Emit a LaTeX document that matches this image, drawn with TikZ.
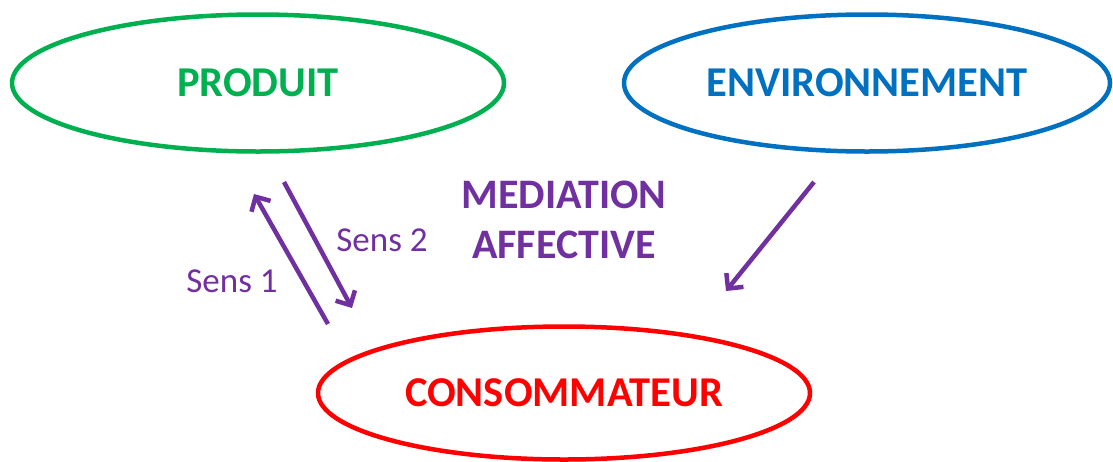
\documentclass[tikz,border=0pt]{standalone}
\usepackage{fontspec}
\setmainfont{Carlito}
\usetikzlibrary{shapes.geometric,arrows.meta}
\definecolor{cgreen}{HTML}{00B050}
\definecolor{cblue}{HTML}{0070C0}
\definecolor{cred}{HTML}{FF0000}
\definecolor{cpurple}{HTML}{7030A0}
\begin{document}
\begin{tikzpicture}[x=1pt,y=-1pt,
  oval/.style={ellipse,draw,line width=4.5pt,inner sep=0pt,font=\fontsize{42.5}{46}\selectfont\bfseries},
  flow/.style={draw=cpurple,line width=4.5pt,-{Straight Barb[length=11pt,width=22pt]}},
  lab/.style={text=cpurple,font=\fontsize{35}{40}\selectfont},
  big/.style={text=cpurple,font=\fontsize{42}{50}\selectfont\bfseries,align=center}]
\useasboundingbox (0,0) rectangle (1113,461);
\node[oval,draw=cgreen,text=cgreen,minimum width=492pt,minimum height=137pt] (prod) at (258,83) {PRODUIT};
\node[oval,draw=cblue,text=cblue,minimum width=486pt,minimum height=137pt] (env) at (867,83) {ENVIRONNEMENT};
\node[oval,draw=cred,text=cred,minimum width=492pt,minimum height=133pt] (cons) at (564,393) {CONSOMMATEUR};
\node[big] (med) at (564,220) {MEDIATION\\AFFECTIVE};
\node[lab] (s1) at (232,281) {Sens 1};
\node[lab] (s2) at (382,240) {Sens 2};
\coordinate (a1) at (328,324);
\coordinate (b1) at (254,194);
\coordinate (a2) at (284,182);
\coordinate (b2) at (352,308);
\coordinate (a3) at (814,182);
\coordinate (b3) at (726,291);
\draw[flow] (a1) -- (b1);
\draw[flow] (a2) -- (b2);
\draw[flow] (a3) -- (b3);
\end{tikzpicture}
\end{document}
